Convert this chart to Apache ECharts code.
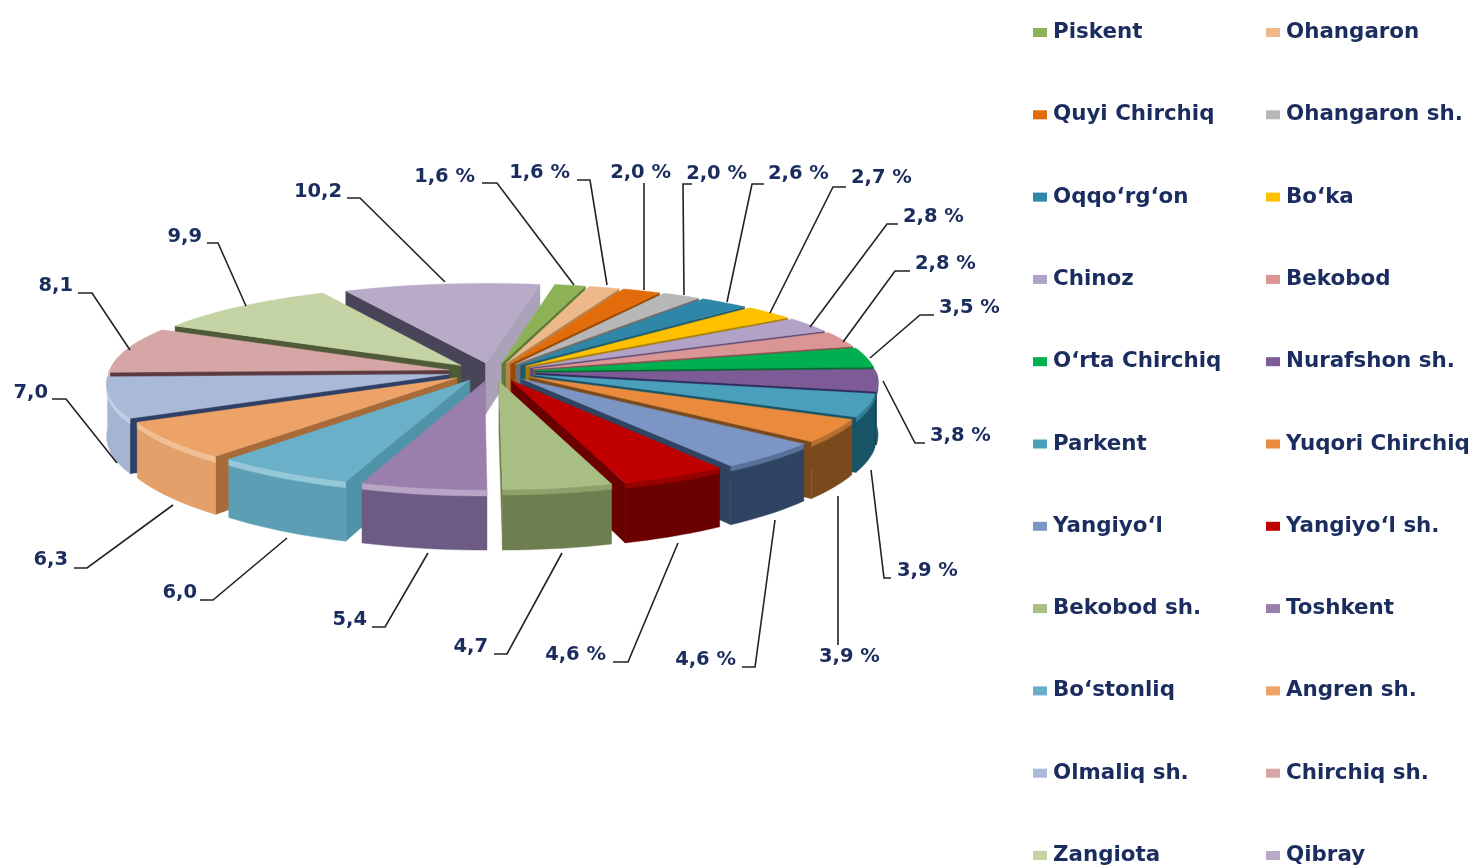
<!DOCTYPE html>
<html><head><meta charset="utf-8">
<style>html,body{margin:0;padding:0;background:#fff}#c{width:1480px;height:865px}</style>
<script src="https://cdn.jsdelivr.net/npm/echarts@6/dist/echarts.min.js"></script>
</head><body><div id="c"></div>
<script>
const names = ['Piskent','Ohangaron','Quyi Chirchiq','Ohangaron sh.','Oqqo‘rg‘on','Bo‘ka','Chinoz','Bekobod','O‘rta Chirchiq','Nurafshon sh.','Parkent','Yuqori Chirchiq','Yangiyo‘l','Yangiyo‘l sh.','Bekobod sh.','Toshkent','Bo‘stonliq','Angren sh.','Olmaliq sh.','Chirchiq sh.','Zangiota','Qibray'];
const values = [1.6,1.6,2.0,2.0,2.6,2.7,2.8,2.8,3.5,3.8,3.9,3.9,4.6,4.6,4.7,5.4,6.0,6.3,7.0,8.1,9.9,10.2];
const labelTexts = ['1,6 %','1,6 %','2,0 %','2,0 %','2,6 %','2,7 %','2,8 %','2,8 %','3,5 %','3,8 %','3,9 %','3,9 %','4,6 %','4,6 %','4,7','5,4','6,0','6,3','7,0','8,1','9,9','10,2'];

const topColors = ['#8DB255','#EDB88A','#E36C0A','#B7B7B7','#2E86A8','#FFC000','#B3A2C7','#D99694','#00B050','#7D5B96','#4A9FBB','#E98A3C','#7B95C5','#C00000','#A8BE83','#9A7FAD','#69B0C8','#EDA368','#A9B9D8','#D6A5A5','#C4D3A4','#B8ABC8'];
const wallColors = ['#5f7c36','#b9834f','#9a4805','#6f6f6f','#1e5a6f','#a67c00','#5b4a78','#8a4f50','#006b30','#175566','#175566','#7a4a1d','#2f4462','#6a0000','#6f7e4e','#6c5b82','#5c9fb5','#e3a06a','#a4b5d3','#c9a0a0','#b0bf90','#a9a2b8'];
const sideColors = ['#5f7c36','#b9834f','#9a4805','#6f6f6f','#1e5a6f','#a67c00','#5b4a78','#8a4f50','#006b30','#2e2a5e','#175566','#7a4a1d','#2f4462','#6a0000','#6f7e4e','#6c5b82','#4f93a8','#a86a38','#2f3f66','#5c3a3f','#4f5a38','#4a4458'];
const endSideOverride = {21:'#a9a2b8'};

// label x (anchor), label y, align, leader polyline
const labelLayout = [
 [475,177,'right',[[482,183],[497,183],[574,285]]],
 [570,173,'right',[[577,180],[590,180],[607,285]]],
 [671,173,'right',[[644,183],[644,290]]],
 [747,174,'right',[[692,184],[683,184],[684,295]]],
 [768,174,'left',[[764,184],[752,184],[727,302]]],
 [851,178,'left',[[846,187],[833,187],[770,313]]],
 [903,217,'left',[[898,224],[887,224],[810,327]]],
 [915,264,'left',[[910,271],[895,271],[843,342]]],
 [939,308,'left',[[934,315],[920,315],[870,358]]],
 [930,436,'left',[[925,443],[915,443],[883,381]]],
 [897,571,'left',[[891,578],[884,578],[871,470]]],
 [819,657,'left',[[838,645],[838,496]]],
 [736,660,'right',[[742,667],[755,667],[775,520]]],
 [606,655,'right',[[613,662],[628,662],[678,543]]],
 [488,647,'right',[[494,654],[507,654],[562,553]]],
 [367,620,'right',[[372,627],[385,627],[428,553]]],
 [197,593,'right',[[200,600],[213,600],[287,538]]],
 [68,560,'right',[[74,568],[87,568],[173,505]]],
 [48,393,'right',[[52,399],[66,399],[117,463]]],
 [73,286,'right',[[78,293],[92,293],[130,350]]],
 [202,237,'right',[[207,243],[218,243],[246,306]]],
 [342,192,'right',[[347,198],[360,198],[445,282]]]
];

const START = 10, EXPLODE_X = 0.13, EXPLODE_Y = 0.1, PERSP_X = 0.09, PERSP_Y = 0.128, WALL = 0.565;
const CX = 492, CY = 372, RX = 340, RY = 92;
const total = values.reduce((a,b)=>a+b,0);
const rad = d => d*Math.PI/180;

function mix(hex,hex2,t){
  const p=h=>{const n=parseInt(h.slice(1),16);return [n>>16,(n>>8)&255,n&255];};
  const a=p(hex),b=p(hex2);
  return 'rgb('+a.map((c,k)=>Math.round(c+(b[k]-c)*t)).join(',')+')';
}

function sliceStart(i){
  let c=0; for(let k=0;k<i;k++) c+=values[k];
  return START+c/total*360;
}
function makeRender(i){
  return function(params,api){
    const v=api.value(0);
    const a0=sliceStart(i), a1=a0+v/total*360, m=(a0+a1)/2;
    const ox=EXPLODE_X*Math.sin(rad(m)), oy=-EXPLODE_Y*Math.cos(rad(m));
    const pt=(X,Y,drop)=>{
      const sx=1/(1-PERSP_X*Y), sy=1/(1-PERSP_Y*Y);
      return api.coord([X*sx,(Y+drop)*sy]);
    };
    const rim=(a,drop)=>pt(ox+Math.sin(rad(a)),oy-Math.cos(rad(a)),drop);
    const apex=drop=>pt(ox,oy,drop);
    const arc=(from,to,drop)=>{const o=[];const n=Math.max(2,Math.ceil((to-from)/2));for(let j=0;j<=n;j++)o.push(rim(from+(to-from)*j/n,drop));return o;};
    const poly=(points,fill)=>({type:'polygon',shape:{points},style:{fill,stroke:fill,lineWidth:0.4}});
    const side=sideColors[i], end=endSideOverride[i]||side;
    const children=[];
    // radial walls that face the viewer
    if(Math.sin(rad(a0))<0) children.push(poly([apex(0),rim(a0,0),rim(a0,WALL),apex(WALL)],side));
    if(Math.sin(rad(a1))>0) children.push(poly([apex(0),rim(a1,0),rim(a1,WALL),apex(WALL)],end));
    // outer wall only on the half facing the viewer
    const f0=Math.max(a0,90), f1=Math.min(a1,270);
    if(f1>f0){
      const t=arc(f0,f1,0), l=arc(f0,f1,WALL);
      const bevelDrop = m<180 ? 0.05 : 0.06;
      const bevelColor = m<180 ? mix(topColors[i],wallColors[i],0.45) : mix(topColors[i],'#ffffff',0.3);
      children.push(poly(t.concat(l.slice().reverse()),wallColors[i]));
      children.push(poly(t.concat(arc(f0,f1,bevelDrop).reverse()),bevelColor));
    }
    children.push(poly([apex(0)].concat(arc(a0,a1,0)),topColors[i]));
    return {type:'group',children};
  };
}
const mids=names.map((_,i)=>sliceStart(i)+values[i]/total*180);
const rankOf={};
names.map((_,i)=>i).sort((p,q)=>Math.cos(rad(mids[q]))-Math.cos(rad(mids[p]))).forEach((idx,rank)=>{rankOf[idx]=rank;});

const series=names.map((n,i)=>({
  type:'custom',name:n,coordinateSystem:'cartesian2d',silent:true,z:2+rankOf[i],
  itemStyle:{color:topColors[i]},data:[[values[i]]],renderItem:makeRender(i),clip:false
}));
series.push({
  type:'custom',name:'labels',coordinateSystem:'cartesian2d',silent:true,z:60,clip:false,
  data:labelTexts.map((t,i)=>[i]),
  renderItem(params,api){
    const i=api.value(0),L=labelLayout[i];
    return {type:'group',children:[
      {type:'polyline',shape:{points:L[3]},style:{stroke:'#222222',lineWidth:1.6,fill:'none'}},
      {type:'text',style:{x:L[0],y:L[1],text:labelTexts[i],textAlign:L[2],textVerticalAlign:'middle',fill:'#1b2c5e',font:'bold 19.5px "DejaVu Sans"'}}
    ]};
  }
});
const legendBase={orient:'vertical',top:22,height:860,padding:0,itemWidth:14,itemHeight:9,itemGap:61.3,icon:'rect',selectedMode:false,
  textStyle:{fontFamily:'DejaVu Sans',fontWeight:'bold',fontSize:21.4,color:'#1b2c5e',padding:[0,0,0,1]}};
const chart=echarts.init(document.getElementById('c'));
chart.setOption({
  animation:false,backgroundColor:'#fff',
  grid:{left:CX-RX,top:CY-RY,width:2*RX,height:2*RY},
  xAxis:{type:'value',min:-1,max:1,show:false},
  yAxis:{type:'value',min:-1,max:1,inverse:true,show:false},
  legend:[
    Object.assign({},legendBase,{left:1033,data:names.filter((_,i)=>i%2===0)}),
    Object.assign({},legendBase,{left:1266,data:names.filter((_,i)=>i%2===1)})
  ],
  series
});
</script></body></html>
